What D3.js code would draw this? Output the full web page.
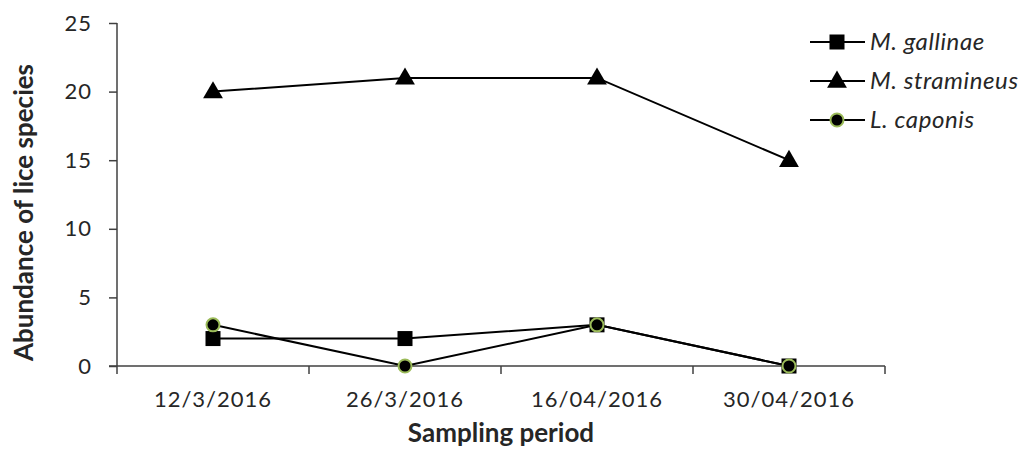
<!DOCTYPE html>
<html>
<head>
<meta charset="utf-8">
<script src="https://cdn.jsdelivr.net/npm/d3@7"></script>
<style>
body { margin: 0; background: #fff; }
text { font-family: Lato, "Open Sans", sans-serif; fill: #262626; }
</style>
</head>
<body>
<svg id="chart" width="1033" height="450"></svg>
<script>
'use strict';

const periods = ['12/3/2016', '26/3/2016', '16/04/2016', '30/04/2016'];
const gallinae = [2, 2, 3, 0];
const stramineus = [20, 21, 21, 15];
const caponis = [3, 0, 3, 0];
const yTicks = [0, 5, 10, 15, 20, 25];

const seriesList = [
	{ name: 'M. gallinae', values: gallinae, shape: 'square' },
	{ name: 'M. stramineus', values: stramineus, shape: 'triangle' },
	{ name: 'L. caponis', values: caponis, shape: 'circle' }
];

const svg = d3.select('#chart');
const plotLeft = 117, plotRight = 885, plotTop = 23, plotBottom = 366;

const x = d3.scaleBand().domain(periods).range([plotLeft, plotRight]);
const y = d3.scaleLinear().domain([0, 25]).range([plotBottom, plotTop]);

// axes
const yAxis = svg.append('g')
	.attr('transform', `translate(${plotLeft},0)`)
	.call(d3.axisLeft(y).tickValues(yTicks).tickSize(8).tickPadding(17));
const xAxis = svg.append('g')
	.attr('transform', `translate(0,${plotBottom})`)
	.call(d3.axisBottom(x).tickSize(0).tickPadding(25));
xAxis.selectAll('.tick line').remove();
xAxis.append('g').selectAll('line')
	.data(d3.range(periods.length + 1))
	.join('line')
	.attr('x1', i => plotLeft + i * x.bandwidth())
	.attr('x2', i => plotLeft + i * x.bandwidth())
	.attr('y1', 0).attr('y2', 8);
svg.selectAll('.domain, .tick line, g line').attr('stroke', '#404040').attr('stroke-width', 1.5);
yAxis.select('.domain').attr('d', `M0,${plotTop}V${plotBottom}`);
xAxis.select('.domain').attr('d', `M${plotLeft - 8},0H${plotRight}`);
svg.selectAll('.tick text').style('font-size', '22px').style('letter-spacing', '1px').attr('fill', '#262626');

svg.append('text')
	.attr('x', (plotLeft + plotRight) / 2).attr('y', 442)
	.attr('text-anchor', 'middle')
	.style('font-size', '26px').style('font-weight', 'bold')
	.text('Sampling period');
svg.append('text')
	.attr('transform', `translate(33,${(plotTop + plotBottom) / 2 + 18}) rotate(-90)`)
	.attr('text-anchor', 'middle')
	.style('font-size', '26px').style('font-weight', 'bold')
	.text('Abundance of lice species');

function drawMarker(g, shape, cx, cy) {
	if (shape == 'square') {
		g.append('rect').attr('x', cx - 7.5).attr('y', cy - 7.5).attr('width', 15).attr('height', 15).attr('fill', '#000');
	} else if (shape == 'triangle') {
		g.append('path').attr('d', d3.symbol(d3.symbolTriangle, 170)()).attr('transform', `translate(${cx},${cy + 1})`).attr('fill', '#000');
	} else {
		g.append('circle').attr('cx', cx).attr('cy', cy).attr('r', 6.5).attr('fill', '#000').attr('stroke', '#9bbb59').attr('stroke-width', 2);
	}
}

const line = d3.line()
	.x((d, i) => x(periods[i]) + x.bandwidth() / 2)
	.y(d => y(d));

for (const s of seriesList) {
	svg.append('path')
		.attr('d', line(s.values))
		.attr('fill', 'none')
		.attr('stroke', '#000')
		.attr('stroke-width', 2);
}
for (const s of seriesList) {
	const g = svg.append('g');
	s.values.forEach((v, i) => drawMarker(g, s.shape, x(periods[i]) + x.bandwidth() / 2, y(v)));
}

// legend
seriesList.forEach((s, i) => {
	const ly = 42 + i * 39;
	const g = svg.append('g');
	g.append('line').attr('x1', 810).attr('x2', 865).attr('y1', ly).attr('y2', ly).attr('stroke', '#000').attr('stroke-width', 2);
	drawMarker(g, s.shape, 837, ly);
	g.append('text').attr('x', 870).attr('y', ly + 8)
		.style('font-size', '24px').style('font-style', 'italic').style('letter-spacing', '0.6px')
		.text(s.name);
});
</script>
</body>
</html>
